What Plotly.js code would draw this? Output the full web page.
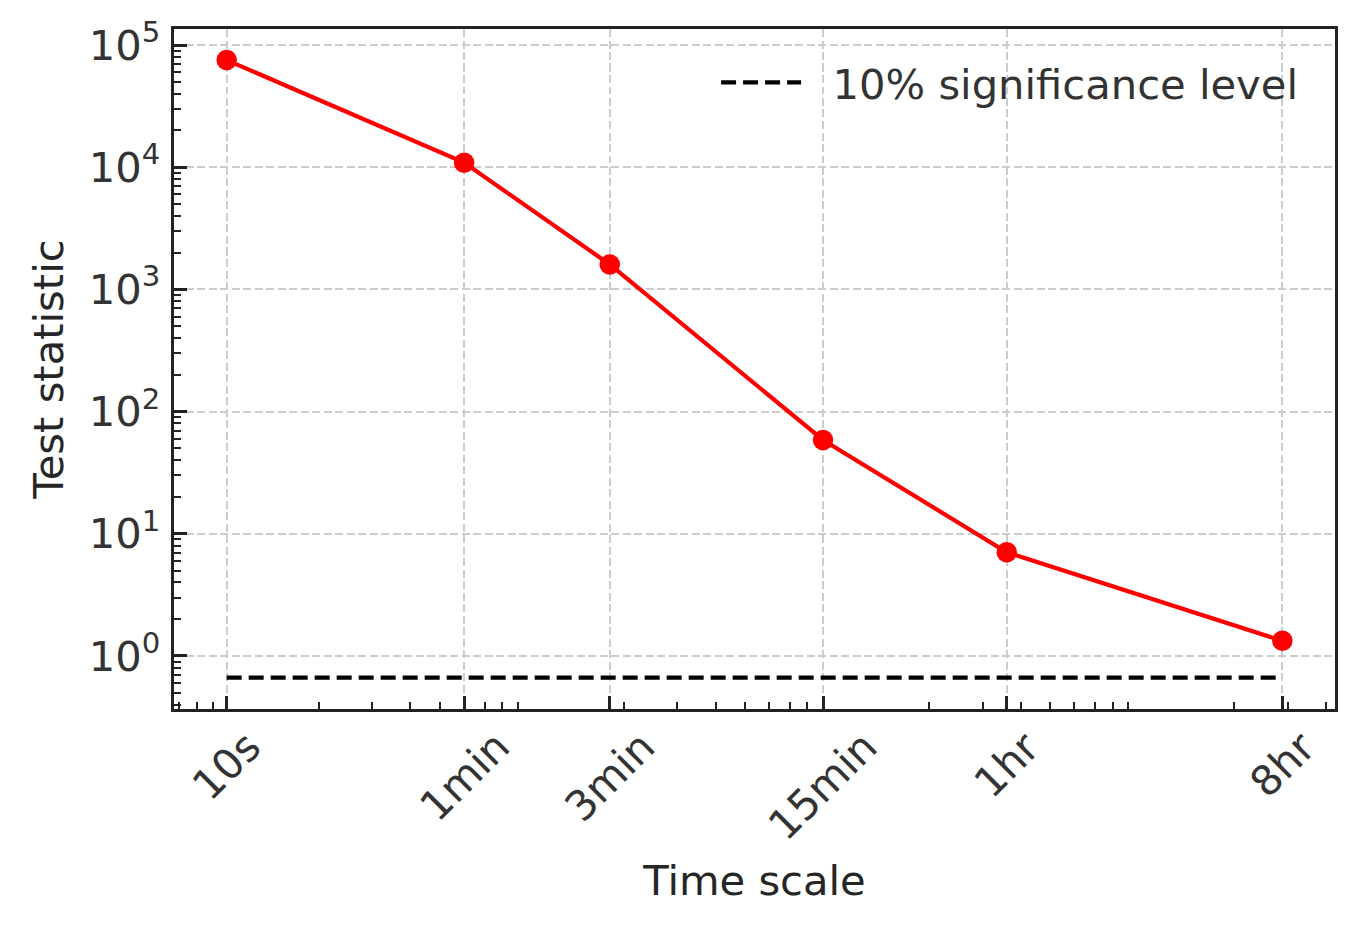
<!DOCTYPE html>
<html>
<head>
<meta charset="utf-8">
<script src="https://cdn.plot.ly/plotly-3.0.1.min.js"></script>
<style>
  html, body { margin: 0; padding: 0; background: #ffffff; }
  #chart { width: 1366px; height: 931px; }
</style>
</head>
<body>
<div id="chart"></div>
<script>
// ---- data ----
const timeLabels = ['10s', '1min', '3min', '15min', '1hr', '8hr'];
const timeSeconds = [10, 60, 180, 900, 3600, 28800];
const testStatistic = [75300, 10900, 1600, 58.6, 7.06, 1.33];
const significanceLevel = 0.665;
const significanceLabel = '10% significance level';
const yTickValues = [1, 10, 100, 1000, 10000, 100000];
const yTickLabels = ['10<sup>0</sup>', '10<sup>1</sup>', '10<sup>2</sup>', '10<sup>3</sup>', '10<sup>4</sup>', '10<sup>5</sup>'];

// minor log ticks (2..9 x 10^n)
function minorLogTicks(minExp, maxExp) {
  const out = [];
  for (let e = minExp; e <= maxExp; e++) {
    for (let m = 2; m <= 9; m++) out.push(m * Math.pow(10, e));
  }
  return out;
}

const FONT = 'DejaVu Sans, Verdana, sans-serif';
const FS = 41.67;
const TEXT_DARK = '#262626';
const TICK_TEXT = '#333333';
const SPINE = '#222222';

const traces = [
  {
    x: timeSeconds,
    y: testStatistic,
    type: 'scatter',
    mode: 'lines+markers',
    line: { color: '#ff0000', width: 4.17 },
    marker: { color: '#ff0000', size: 20.5 },
    showlegend: false,
    hoverinfo: 'x+y'
  },
  {
    x: [timeSeconds[0], timeSeconds[timeSeconds.length - 1]],
    y: [significanceLevel, significanceLevel],
    type: 'scatter',
    mode: 'lines',
    // leading no-break spaces reproduce the gap between the legend handle and its text
    name: '\u00a0\u00a0' + significanceLabel,
    line: { color: '#000000', width: 4.17, dash: '15px,7px' },
    showlegend: true
  }
];

const commonAxis = {
  type: 'log',
  showline: true,
  linecolor: SPINE,
  linewidth: 3.3,
  mirror: true,
  ticks: 'inside',
  ticklen: 13,
  tickwidth: 3,
  tickcolor: SPINE,
  showgrid: true,
  gridcolor: '#cccccc',
  gridwidth: 2,
  griddash: '8px,3.5px',
  zeroline: false,
  tickfont: { family: FONT, size: FS, color: TICK_TEXT }
};

const xAnnotations = timeLabels.map((lab, i) => ({
  x: Math.log10(timeSeconds[i]),
  xref: 'x',
  y: 0,
  yref: 'paper',
  xanchor: 'center',
  yanchor: 'top',
  yshift: -10,
  textangle: -45,
  text: lab,
  showarrow: false,
  font: { family: FONT, size: FS, color: TICK_TEXT }
}));

const layout = {
  width: 1366,
  height: 931,
  margin: { l: 174, r: 31, t: 29, b: 222, pad: 0 },
  paper_bgcolor: '#ffffff',
  plot_bgcolor: '#ffffff',
  font: { family: FONT, size: FS, color: TEXT_DARK },
  showlegend: true,
  legend: {
    x: 0.9725,
    y: 0.971,
    xanchor: 'right',
    yanchor: 'top',
    bgcolor: 'rgba(0,0,0,0)',
    borderwidth: 0,
    font: { family: FONT, size: FS, color: TICK_TEXT },
    itemwidth: 80
  },
  xaxis: Object.assign({}, commonAxis, {
    range: [Math.log10(6.72), Math.log10(42850)],
    tickmode: 'array',
    tickvals: timeSeconds,
    ticktext: timeLabels,
    showticklabels: false,
    minor: {
      tickmode: 'array',
      tickvals: minorLogTicks(0, 4),
      ticks: 'inside',
      ticklen: 7,
      tickwidth: 2,
      tickcolor: SPINE,
      showgrid: false
    },
    title: {
      text: 'Time scale',
      font: { family: FONT, size: FS, color: TEXT_DARK },
      standoff: 155
    },
    automargin: false
  }),
  yaxis: Object.assign({}, commonAxis, {
    range: [-0.434, 5.131],
    tickmode: 'array',
    tickvals: yTickValues,
    ticktext: yTickLabels,
    ticklabelstandoff: 2,
    minor: {
      tickmode: 'array',
      tickvals: minorLogTicks(-1, 4),
      ticks: 'inside',
      ticklen: 7,
      tickwidth: 2,
      tickcolor: SPINE,
      showgrid: false
    },
    title: {
      text: 'Test statistic',
      font: { family: FONT, size: FS, color: TEXT_DARK },
      standoff: 13
    },
    automargin: false
  }),
  annotations: xAnnotations
};

Plotly.newPlot('chart', traces, layout, { displayModeBar: false, staticPlot: true });
</script>
</body>
</html>
